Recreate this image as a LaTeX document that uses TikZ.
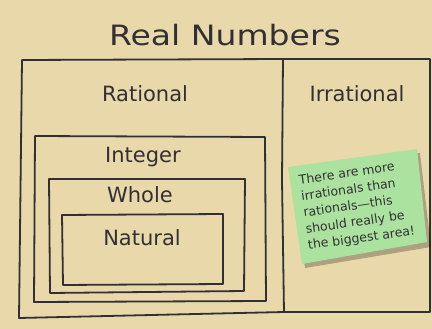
\documentclass[tikz,border=0pt]{standalone}
\usepackage{fontspec}
\setmainfont{DejaVu Sans}
\begin{document}
\begin{tikzpicture}[x=1pt,y=-1pt,
  ink/.style={draw=inkc, line width=1.8pt, line join=round, line cap=round},
  lbl/.style={text=inkc, inner sep=0pt, anchor=center},
  ]
\definecolor{paper}{RGB}{233,216,170}
\definecolor{inkc}{RGB}{50,48,52}
\definecolor{notec}{RGB}{172,226,160}
\useasboundingbox (0,0) rectangle (432,329);
\fill[paper] (0,0) rectangle (432,329);
% outer box
\draw[ink] (22,60) -- (283,59) -- (430,59) -- (430,312) -- (284,312) -- (19,318) -- cycle;
\draw[ink] (283,59) -- (282,180) -- (284,312);
% nested boxes
\draw[ink] (35,136) -- (265,137) -- (266,301) -- (34,302) -- cycle;
\draw[ink] (49,179) -- (245,179) -- (244,291) -- (50,293) -- cycle;
\draw[ink] (62,215) -- (223,214) -- (223,284) -- (63,285) -- cycle;
% labels
\node[lbl, font=\fontsize{28}{30}\selectfont, xscale=1.18, transform shape] (title) at (225,35) {Real Numbers};
\node[lbl, font=\fontsize{21}{24}\selectfont] (rat) at (145,94) {Rational};
\node[lbl, font=\fontsize{21}{24}\selectfont] (irr) at (357,94) {Irrational};
\node[lbl, font=\fontsize{21}{24}\selectfont] (int) at (143,157) {Integer};
\node[lbl, font=\fontsize{21}{24}\selectfont] (who) at (140,195) {Whole};
\node[lbl, font=\fontsize{21}{24}\selectfont] (nat) at (142,238) {Natural};
% sticky note
\fill[black, opacity=0.25] (291,171) -- (420,153) -- (431,247) -- (305,268) -- cycle;
\fill[notec] (288,167) -- (417,149) -- (427,242) -- (302,264) -- cycle;
\node[lbl, rotate=8, font=\fontsize{12.5}{16.5}\selectfont, align=left] (note) at (357,206)
  {There are more\\irrationals than\\rationals---this\\should really be\\the biggest area!};
\end{tikzpicture}
\end{document}
